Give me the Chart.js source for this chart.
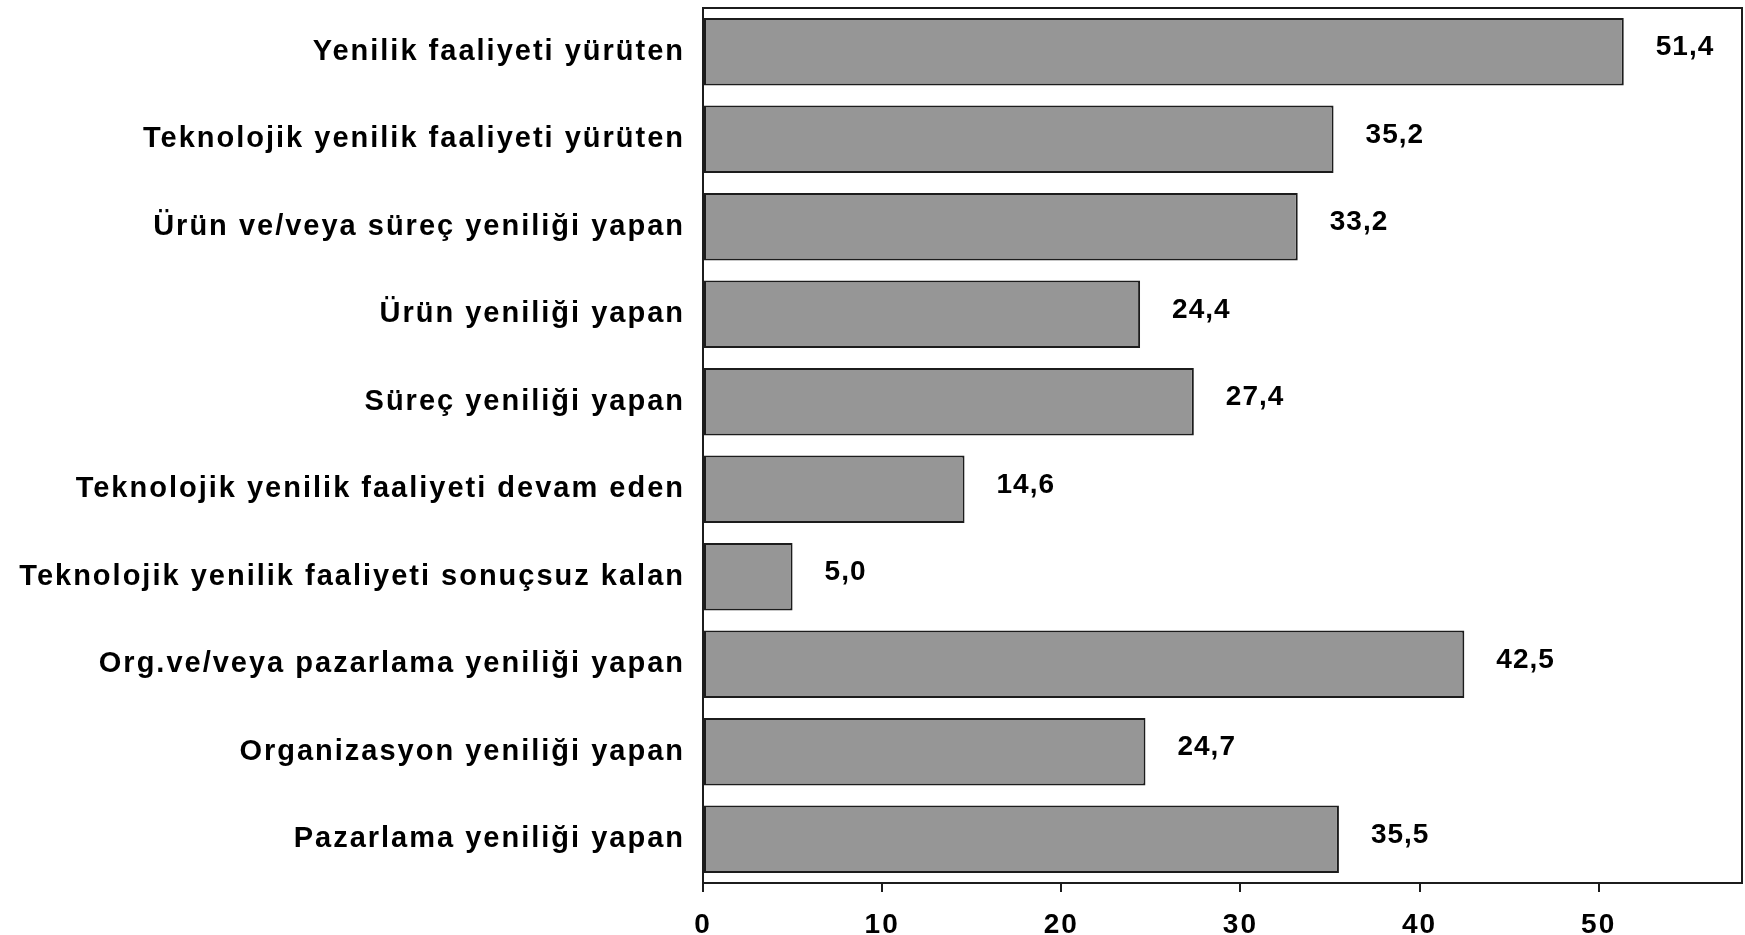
<!DOCTYPE html>
<html>
<head>
<meta charset="utf-8">
<script src="https://cdn.jsdelivr.net/npm/chart.js@4.4.1/dist/chart.umd.min.js"></script>
<style>
  html, body { margin: 0; padding: 0; background: #fff; }
  #wrap { width: 1745px; height: 935px; position: relative; }
</style>
</head>
<body>
<div id="wrap"><canvas id="innovChart"></canvas></div>
<script>
const categories = [
  'Yenilik faaliyeti yürüten',
  'Teknolojik yenilik faaliyeti yürüten',
  'Ürün ve/veya süreç yeniliği yapan',
  'Ürün yeniliği yapan',
  'Süreç yeniliği yapan',
  'Teknolojik yenilik faaliyeti devam eden',
  'Teknolojik yenilik faaliyeti sonuçsuz kalan',
  'Org.ve/veya pazarlama yeniliği yapan',
  'Organizasyon yeniliği yapan',
  'Pazarlama yeniliği yapan',
];
const shares = [51.4, 35.2, 33.2, 24.4, 27.4, 14.6, 5.0, 42.5, 24.7, 35.5];
const xTicks = [0, 10, 20, 30, 40, 50];

const BAR_FILL = '#969696';
const INK = '#1c1c1c';
const FONT = 'Liberation Sans, Arial, sans-serif';

const fmt = v => v.toFixed(1).replace('.', ',');

// spaced-out letters like the original rendering
const spacing = {
  id: 'spacing',
  beforeLayout(chart) { chart.ctx.letterSpacing = '2px'; },
  beforeDraw(chart) { chart.ctx.letterSpacing = '2px'; },
};

const frame = {
  id: 'frame',
  afterDraw(chart) {
    const { ctx, chartArea: a } = chart;
    ctx.save();
    ctx.strokeStyle = INK;
    ctx.lineWidth = 2;
    ctx.strokeRect(a.left, a.top, a.right - a.left, a.bottom - a.top);
    ctx.restore();
  },
};

const valueLabels = {
  id: 'valueLabels',
  afterDatasetsDraw(chart) {
    const { ctx } = chart;
    const meta = chart.getDatasetMeta(0);
    ctx.save();
    ctx.font = 'bold 28px ' + FONT;
    ctx.letterSpacing = '1px';
    ctx.fillStyle = '#000';
    ctx.textAlign = 'left';
    ctx.textBaseline = 'middle';
    meta.data.forEach((bar, i) => {
      ctx.fillText(fmt(shares[i]), bar.x + 32, bar.y - 4);
    });
    ctx.restore();
  },
};

new Chart(document.getElementById('innovChart'), {
  type: 'bar',
  data: {
    labels: categories,
    datasets: [{
      data: shares,
      backgroundColor: BAR_FILL,
      borderColor: INK,
      borderWidth: 2,
      borderSkipped: false,
      categoryPercentage: 1,
      barPercentage: 0.77,
    }],
  },
  options: {
    indexAxis: 'y',
    responsive: true,
    maintainAspectRatio: false,
    animation: false,
    layout: { padding: { top: 8, right: 3, left: 0, bottom: 0 } },
    plugins: { legend: { display: false }, tooltip: { enabled: false } },
    scales: {
      x: {
        min: 0, max: 58,
        afterBuildTicks: s => { s.ticks = xTicks.map(v => ({ value: v })); },
        afterFit: s => { s.height = 52; s.paddingLeft = 0; s.paddingRight = 0; },
        grid: { drawOnChartArea: false, drawTicks: true, tickLength: 9, color: INK, lineWidth: 2 },
        border: { display: true, color: INK, width: 2 },
        ticks: { color: '#000', padding: 16, font: { family: FONT, size: 28, weight: 'bold' } },
      },
      y: {
        afterFit: s => { s.width = 703; s.paddingTop = 0; s.paddingBottom = 0; },
        grid: { display: false },
        border: { display: true, color: INK, width: 2 },
        ticks: { color: '#000', padding: 10, font: { family: FONT, size: 29, weight: 'bold' } },
      },
    },
  },
  plugins: [spacing, frame, valueLabels],
});
</script>
</body>
</html>
